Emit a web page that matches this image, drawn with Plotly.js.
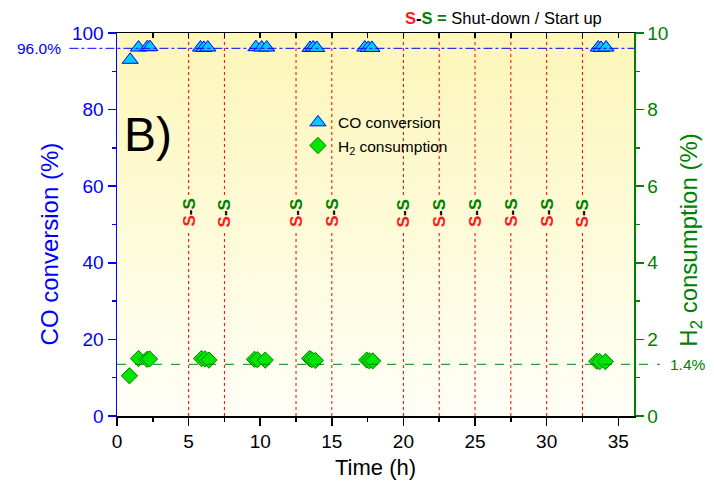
<!DOCTYPE html>
<html>
<head>
<meta charset="utf-8">
<script src="https://cdn.plot.ly/plotly-3.0.1.min.js"></script>
<style>html,body{margin:0;padding:0;background:#fff;}#chart{width:714px;height:492px;}</style>
</head>
<body>
<div id="chart"></div>
<script>
// ---- data ----
var timeCO = [0.92, 1.5, 2.12, 2.3, 5.83, 6.06, 6.34, 9.7, 10.1, 10.45, 13.48, 13.7, 13.95, 17.3, 17.55, 17.8, 33.6, 33.8, 34.15];
var coConversion = [93.0, 96.2, 96.3, 96.3, 96.2, 96.1, 96.2, 96.3, 96.2, 96.2, 96.1, 96.2, 96.1, 96.2, 96.1, 96.1, 96.2, 96.1, 96.2];
var timeH2 = [0.87, 1.5, 2.1, 2.27, 5.9, 6.15, 6.42, 9.6, 9.8, 10.35, 13.45, 13.6, 13.85, 17.44, 17.62, 17.86, 33.5, 33.7, 34.1];
var h2Consumption = [1.05, 1.50, 1.48, 1.49, 1.50, 1.49, 1.46, 1.48, 1.47, 1.46, 1.50, 1.47, 1.45, 1.46, 1.44, 1.44, 1.43, 1.42, 1.42];
var shutdownTimes = [5, 7.5, 12.5, 15, 20, 22.5, 25, 27.5, 30, 32.5];
var coAverage = 96.0;
var coAverageLabel = "96.0%";
var h2Average = 1.35;
var h2AverageLabel = "1.4%";
var ssLabelY = 53;

var BLUE = 'rgb(0,0,255)';
var GREEN = 'rgb(0,128,0)';
var FONT = 'Liberation Sans, Arial, sans-serif';

var traces = [
  {
    x: timeCO, y: coConversion, type: 'scatter', mode: 'markers',
    name: 'CO conversion', xaxis: 'x', yaxis: 'y',
    marker: {symbol: 'triangle-up', size: 14, color: 'rgb(0,204,255)', line: {color: BLUE, width: 1}}
  },
  {
    x: timeH2, y: h2Consumption, type: 'scatter', mode: 'markers',
    name: 'H<sub>2</sub> consumption', xaxis: 'x', yaxis: 'y2',
    marker: {symbol: 'diamond', size: 12.5, color: 'rgb(0,230,0)', line: {color: 'rgb(0,130,0)', width: 1}}
  },
  {
    x: [0], y: [0], xaxis: 'x2', yaxis: 'y', mode: 'markers', showlegend: false,
    hoverinfo: 'skip', marker: {opacity: 0}
  }
];

var shapes = [];
var annotations = [];
var gapHalf = 4.7;
shutdownTimes.forEach(function (t) {
  var segs = [[0, ssLabelY - gapHalf], [ssLabelY + gapHalf, 100]];
  segs.forEach(function (s) {
    shapes.push({type: 'line', xref: 'x', yref: 'y', x0: t, x1: t, y0: s[0], y1: s[1],
      line: {color: 'red', width: 1, dash: 'dot'}, layer: 'below'});
  });
  annotations.push({
    xref: 'x', yref: 'y', x: t, y: ssLabelY, textangle: -90, showarrow: false,
    text: '<b><span style="color:#ff1a1a">S</span><span style="color:#000">-</span><span style="color:#008000">S</span></b>',
    font: {family: FONT, size: 17}
  });
});

shapes.push({type: 'line', xref: 'paper', yref: 'y', x0: -0.092, x1: 1, y0: coAverage, y1: coAverage,
  line: {color: BLUE, width: 1, dash: 'dashdot'}});
shapes.push({type: 'line', xref: 'paper', yref: 'y2', x0: 0, x1: 1.05, y0: h2Average, y1: h2Average,
  line: {color: GREEN, width: 1, dash: 'dash'}});

annotations.push({xref: 'paper', yref: 'y', x: -0.104, y: coAverage, xanchor: 'right', yanchor: 'middle', showarrow: false,
  text: coAverageLabel, font: {family: FONT, size: 15.5, color: BLUE}});
annotations.push({xref: 'paper', yref: 'y2', x: 1.065, y: h2Average, xanchor: 'left', yanchor: 'middle', showarrow: false,
  text: h2AverageLabel, font: {family: FONT, size: 15.5, color: GREEN}});
annotations.push({xref: 'paper', yref: 'paper', x: 0.01, y: 0.735, xanchor: 'left', yanchor: 'middle', showarrow: false,
  text: 'B)', font: {family: FONT, size: 48, color: '#000'}});
annotations.push({xref: 'paper', yref: 'paper', x: 0.747, y: 1.039, xanchor: 'center', yanchor: 'middle', showarrow: false,
  text: '<b><span style="color:#ff1a1a">S</span>-<span style="color:#008000">S =</span></b> Shut-down / Start up',
  font: {family: FONT, size: 16.5, color: '#000'}});
annotations.push({xref: 'paper', yref: 'paper', x: -0.13, y: 0.45, xanchor: 'center', yanchor: 'middle', showarrow: false,
  textangle: -90, text: 'CO conversion (%)', font: {family: FONT, size: 24, color: BLUE}});
annotations.push({xref: 'paper', yref: 'paper', x: 1.11, y: 0.46, xanchor: 'center', yanchor: 'middle', showarrow: false,
  textangle: -90, text: 'H<sub>2</sub> consumption (%)', font: {family: FONT, size: 24, color: GREEN}});

var bgSvg = '<svg xmlns="http://www.w3.org/2000/svg" width="10" height="100" viewBox="0 0 10 100" preserveAspectRatio="none">' +
  '<defs><linearGradient id="g" x1="0" y1="0" x2="0" y2="1">' +
  '<stop offset="0" stop-color="#fcf6b8"/><stop offset="1" stop-color="#fffff7"/></linearGradient></defs>' +
  '<rect x="0" y="0" width="10" height="100" fill="url(#g)"/></svg>';

var layout = {
  width: 714, height: 492,
  margin: {l: 117, r: 80, t: 33, b: 76},
  paper_bgcolor: '#ffffff',
  plot_bgcolor: 'rgba(0,0,0,0)',
  font: {family: FONT, color: '#000'},
  showlegend: true,
  legend: {x: 0.35, y: 0.81, xanchor: 'left', yanchor: 'top', bgcolor: 'rgba(0,0,0,0)',
    font: {family: FONT, size: 15.5, color: '#000'}, tracegroupgap: 0},
  images: [{source: 'data:image/svg+xml;charset=utf-8,' + encodeURIComponent(bgSvg),
    xref: 'paper', yref: 'paper', x: 0, y: 1, sizex: 1, sizey: 1, sizing: 'stretch',
    xanchor: 'left', yanchor: 'top', layer: 'below'}],
  xaxis: {
    range: [0, 36.1], tickvals: [0, 5, 10, 15, 20, 25, 30, 35], ticks: 'outside', ticklen: 8, tickwidth: 1.5,
    tickcolor: '#000', showline: true, linecolor: '#000', linewidth: 1.5, showgrid: false, zeroline: false,
    tickfont: {family: FONT, size: 19, color: '#000'},
    minor: {dtick: 2.5, tick0: 0, ticks: 'outside', ticklen: 4, tickwidth: 1.5, tickcolor: '#000'},
    title: {text: 'Time (h)', font: {family: FONT, size: 22, color: '#000'}, standoff: 8}
  },
  xaxis2: {
    overlaying: 'x', side: 'top', anchor: 'y', range: [0, 36.1], dtick: 2.5, tick0: 0, ticks: 'inside', ticklen: 5,
    tickwidth: 1.5, tickcolor: '#000', showticklabels: false, showline: true, linecolor: '#000', linewidth: 1.5,
    showgrid: false, zeroline: false
  },
  yaxis: {
    range: [0, 100], dtick: 20, tick0: 0, ticks: 'outside', ticklen: 8, tickwidth: 1.5, tickcolor: BLUE,
    showline: true, linecolor: BLUE, linewidth: 1.5, showgrid: false, zeroline: false,
    tickfont: {family: FONT, size: 19, color: BLUE},
    minor: {dtick: 10, ticks: 'outside', ticklen: 4, tickwidth: 1.5, tickcolor: BLUE}
  },
  yaxis2: {
    overlaying: 'y', side: 'right', anchor: 'x', range: [0, 10], dtick: 2, tick0: 0, ticks: 'outside', ticklen: 8,
    tickwidth: 1.5, tickcolor: GREEN, showline: true, linecolor: GREEN, linewidth: 1.5, showgrid: false,
    zeroline: false, tickfont: {family: FONT, size: 19, color: GREEN},
    minor: {dtick: 1, ticks: 'outside', ticklen: 4, tickwidth: 1.5, tickcolor: GREEN}
  },
  shapes: shapes,
  annotations: annotations
};

Plotly.newPlot('chart', traces, layout, {displayModeBar: false, staticPlot: true});
</script>
</body>
</html>
